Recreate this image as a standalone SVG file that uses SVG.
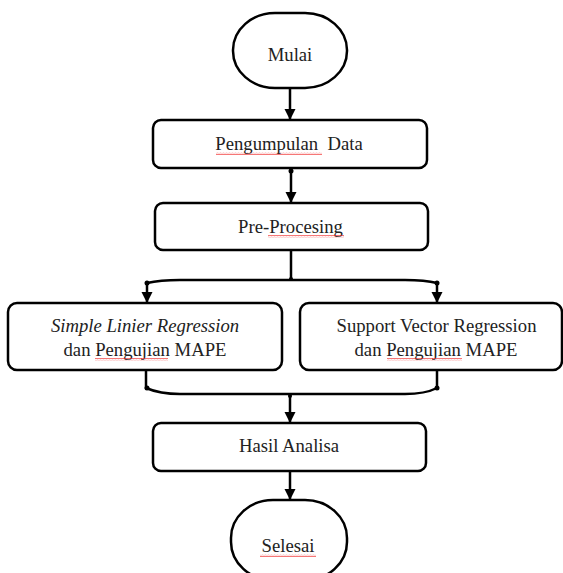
<svg xmlns="http://www.w3.org/2000/svg" width="563" height="573" viewBox="0 0 563 573">
<style>
.shape{fill:#fff;stroke:#000;stroke-width:2.5}
.line{fill:none;stroke:#000;stroke-width:2.5}
.t{font-family:"Liberation Serif","Times New Roman",serif;font-size:18.7px;fill:#222;text-anchor:middle}
.i{font-style:italic}
.sq{fill:url(#squig)}
</style>
<defs>
<marker id="arr" viewBox="0 0 10 10" refX="10" refY="5" markerWidth="4.6" markerHeight="4.6" orient="auto" markerUnits="strokeWidth">
<path d="M0,0 L10,5 L0,10 z" fill="#000"/>
</marker>
<pattern id="squig" width="3" height="3" patternUnits="userSpaceOnUse">
<polyline points="0,2.2 0.75,0.8 1.5,2.2 2.25,0.8 3,2.2" fill="none" stroke="#e22" stroke-width="0.6"/>
</pattern>
</defs>
<g id="connectors">
<path class="line" d="M290,88 V120" marker-end="url(#arr)"/>
<circle cx="291" cy="171" r="2.5" fill="#000"/>
<path class="line" d="M291,168 V203" marker-end="url(#arr)"/>
<path class="line" d="M291,250 V280"/>
<circle cx="291" cy="279" r="2" fill="#000"/>
<path class="line" d="M147,283 Q160,280 180,280 H405 Q425,280 437,283"/>
<circle cx="147" cy="283" r="2.5" fill="#000"/>
<circle cx="437" cy="283" r="2.5" fill="#000"/>
<path class="line" d="M147,283 V303" marker-end="url(#arr)"/>
<path class="line" d="M437,283 V303" marker-end="url(#arr)"/>
<path class="line" d="M146,370 V388 Q160,394 180,394 H405 Q425,394 437,388 V370"/>
<circle cx="147" cy="388" r="2.5" fill="#000"/>
<circle cx="437" cy="388" r="2.5" fill="#000"/>
<circle cx="290" cy="396" r="2" fill="#000"/>
<path class="line" d="M290,394 V423" marker-end="url(#arr)"/>
<path class="line" d="M290,471 V500" marker-end="url(#arr)"/>
</g>
<g id="mulai">
<rect class="shape" x="233" y="13" width="114" height="75" rx="42" ry="37"/>
<text class="t" x="290" y="61">Mulai</text>
</g>
<g id="pengumpulan">
<rect class="shape" x="153" y="120" width="274" height="48" rx="8"/>
<text class="t" x="289" y="150" xml:space="preserve">Pengumpulan  Data</text>
<rect class="sq" x="216" y="152" width="106" height="3"/>
</g>
<g id="preprocesing">
<rect class="shape" x="155" y="203" width="273" height="47" rx="8"/>
<text class="t" x="290.5" y="233">Pre-Procesing</text>
<rect class="sq" x="268" y="235" width="76" height="3"/>
</g>
<g id="slr">
<rect class="shape" x="8" y="303" width="274" height="67" rx="9"/>
<text class="t" x="145" y="332"><tspan class="i">Simple Linier Regression</tspan></text>
<text class="t" x="145" y="356">dan Pengujian MAPE</text>
<rect class="sq" x="95" y="358" width="73" height="3"/>
</g>
<g id="svr">
<rect class="shape" x="300" y="303" width="262" height="67" rx="9"/>
<text class="t" x="436.5" y="332">Support Vector Regression</text>
<text class="t" x="436" y="356">dan Pengujian MAPE</text>
<rect class="sq" x="387" y="358" width="75" height="3"/>
</g>
<g id="hasil">
<rect class="shape" x="153" y="423" width="273" height="48" rx="8"/>
<text class="t" x="289" y="452">Hasil Analisa</text>
</g>
<g id="selesai">
<rect class="shape" x="231" y="500" width="116" height="80" rx="42" ry="38"/>
<text class="t" x="288" y="552">Selesai</text>
<rect class="sq" x="260" y="554" width="56" height="3"/>
</g>
</svg>
